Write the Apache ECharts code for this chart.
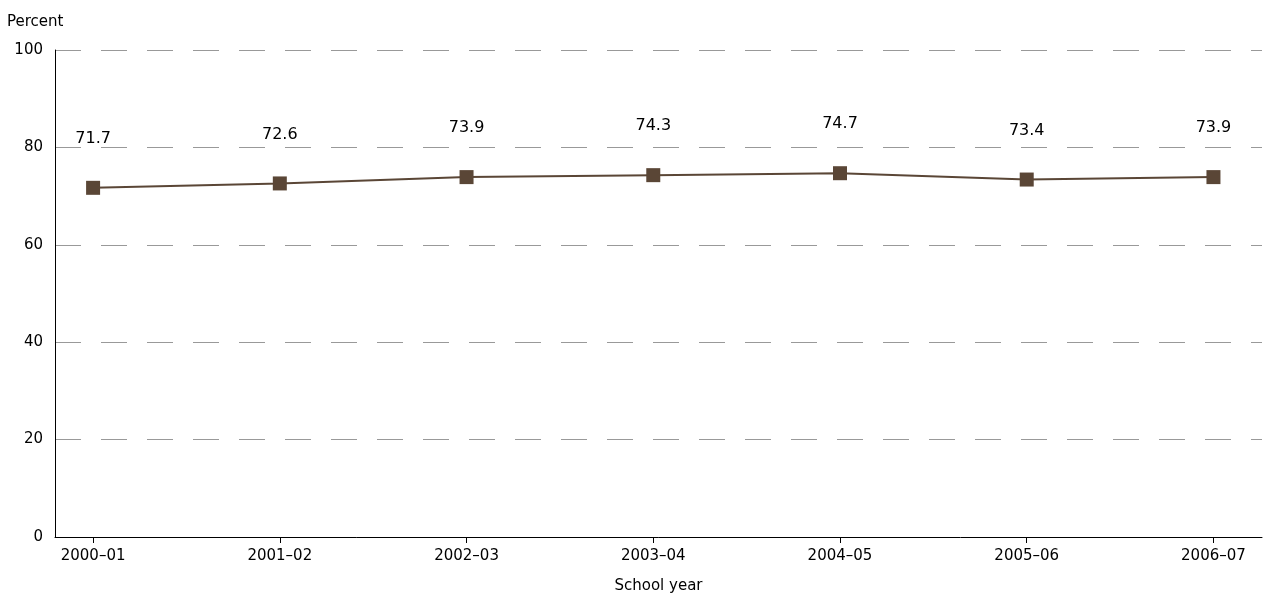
<!DOCTYPE html>
<html><head><meta charset="utf-8">
<script src="https://cdn.jsdelivr.net/npm/echarts@6/dist/echarts.min.js"></script>
<style>html,body{margin:0;padding:0;background:#fff}#main{width:1266px;height:600px}</style>
</head><body><div id="main"></div>
<script>
var years=['2000–01','2001–02','2002–03','2003–04','2004–05','2005–06','2006–07'];
var values=[71.7,72.6,73.9,74.3,74.7,73.4,73.9];
var yTicks=[0,20,40,60,80,100];

function pairs(v){
	var out=[];
	for(var i=0;i<v.length;i++) out.push([i,v[i]]);
	return out;
}
var idx=years.map(function(_,i){return i;});
var myChart=echarts.init(document.getElementById('main'));
myChart.setOption({
	animation:false,
	textStyle:{fontFamily:'DejaVu Sans'},
	grid:{left:55,right:4,top:50,bottom:63},
	xAxis:{
		type:'value',min:-0.204,max:6.26,
		name:'School year',nameLocation:'middle',nameGap:42,
		nameTextStyle:{color:'#000',fontSize:15},
		axisLine:{onZero:false,lineStyle:{color:'#000'}},
		axisTick:{show:true,customValues:idx,lineStyle:{color:'#000'},length:6},
		axisLabel:{customValues:idx,color:'#000',fontSize:15,margin:12,formatter:function(v){return years[Math.round(v)];}},
		splitLine:{show:false}
	},
	yAxis:{
		type:'value',min:0,max:100,interval:20,
		name:'Percent',nameLocation:'end',nameGap:20,
		nameTextStyle:{color:'#000',fontSize:15,align:'left',padding:[0,0,0,-48]},
		axisLine:{show:true,onZero:false,lineStyle:{color:'#000'}},
		axisTick:{show:false},
		axisLabel:{color:'#000',fontSize:15,margin:12},
		splitLine:{lineStyle:{color:'#999',type:[26,20]}}
	},
	series:[{
		type:'line',data:pairs(values),
		symbol:'rect',symbolSize:14,
		lineStyle:{color:'#5a4636',width:2},
		itemStyle:{color:'#5a4636'},
		label:{show:true,position:'top',distance:34,color:'#000',fontSize:16,formatter:function(p){return p.value[1].toFixed(1);}}
	}]
});
</script></body></html>
